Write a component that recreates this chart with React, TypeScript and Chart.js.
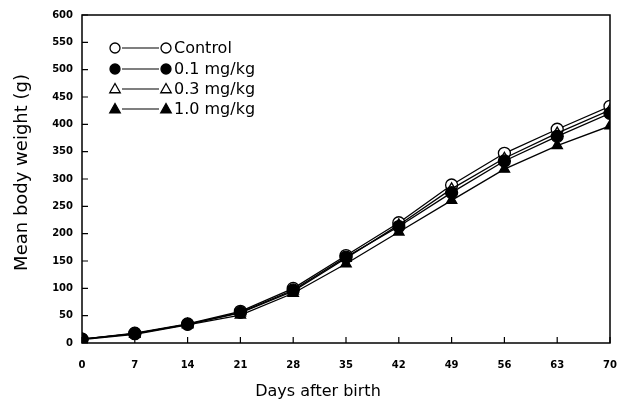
import React, { useEffect, useRef } from "react";
import { Chart, registerables } from "chart.js";

Chart.register(...registerables);

const days = [0, 7, 14, 21, 28, 35, 42, 49, 56, 63, 70];
const control = [7, 18, 35, 58, 100, 160, 220, 289, 347, 391, 433];
const dose01 = [7, 17, 34, 56, 97, 157, 213, 275, 333, 378, 420];
const dose03 = [7, 17, 34, 55, 95, 155, 216, 282, 338, 384, 426];
const dose10 = [6, 16, 33, 51, 91, 145, 203, 261, 318, 361, 397];
const seriesLabels = ["Control", "0.1 mg/kg", "0.3 mg/kg", "1.0 mg/kg"];
const xTicks = [0, 7, 14, 21, 28, 35, 42, 49, 56, 63, 70];
const yTicks = [0, 50, 100, 150, 200, 250, 300, 350, 400, 450, 500, 550, 600];
const xTitle = "Days after birth";
const yTitle = "Mean body weight (g)";

const markerDefs = [
  { style: "circle", fill: "#ffffff" },
  { style: "circle", fill: "#000000" },
  { style: "triangle", fill: "#ffffff" },
  { style: "triangle", fill: "#000000" },
];

function drawMarker(ctx: CanvasRenderingContext2D, style: string, fill: string, x: number, y: number, r: number) {
  ctx.save();
  ctx.beginPath();
  if (style === "circle") {
    ctx.arc(x, y, r, 0, Math.PI * 2);
  } else {
    ctx.moveTo(x, y - r * 1.1);
    ctx.lineTo(x + r * 1.05, y + r * 0.75);
    ctx.lineTo(x - r * 1.05, y + r * 0.75);
    ctx.closePath();
  }
  ctx.fillStyle = fill;
  ctx.fill();
  ctx.strokeStyle = "#000";
  ctx.lineWidth = 1.3;
  ctx.stroke();
  ctx.restore();
}

const framePlugin = {
  id: "frame",
  afterDraw(chart: any) {
    const { ctx, chartArea } = chart;
    const { left, right, top, bottom } = chartArea;
    const xs = chart.scales.x;
    const ys = chart.scales.y;
    ctx.save();
    ctx.strokeStyle = "#000";
    ctx.lineWidth = 1.5;
    ctx.strokeRect(left, top, right - left, bottom - top);
    ctx.lineWidth = 1.2;
    ctx.beginPath();
    yTicks.forEach((v) => {
      const py = ys.getPixelForValue(v);
      ctx.moveTo(left, py);
      ctx.lineTo(left + 6, py);
    });
    xTicks.forEach((v) => {
      const px = xs.getPixelForValue(v);
      ctx.moveTo(px, bottom);
      ctx.lineTo(px, bottom - 6);
    });
    ctx.stroke();

    // axis titles
    ctx.fillStyle = "#000";
    ctx.textAlign = "center";
    ctx.textBaseline = "middle";
    ctx.font = "16px 'DejaVu Sans'";
    ctx.fillText(xTitle, 318, 392);
    ctx.save();
    ctx.translate(22, top + (bottom - top) * 0.48);
    ctx.rotate(-Math.PI / 2);
    ctx.font = "18px 'DejaVu Sans'";
    ctx.fillText(yTitle, 0, 0);
    ctx.restore();

    // legend
    const lx = left + 33;
    const rowY = [48, 69, 89, 109];
    ctx.font = "16px 'DejaVu Sans'";
    ctx.textAlign = "left";
    ctx.textBaseline = "middle";
    seriesLabels.forEach((lab, i) => {
      const y = rowY[i];
      const m = markerDefs[i];
      ctx.beginPath();
      ctx.lineWidth = 1.2;
      ctx.moveTo(lx + 7, y);
      ctx.lineTo(lx + 44, y);
      ctx.stroke();
      drawMarker(ctx, m.style, m.fill, lx, y, 5);
      drawMarker(ctx, m.style, m.fill, lx + 51, y, 5);
      ctx.fillText(lab, lx + 59, y + 1);
    });
    ctx.restore();
  },
};

export default function App() {
  const ref = useRef<HTMLCanvasElement | null>(null);
  useEffect(() => {
    if (!ref.current) return;
    const series = [control, dose01, dose03, dose10];
    const datasets = series.map((vals, i) => ({
      label: seriesLabels[i],
      data: days.map((d, j) => ({ x: d, y: vals[j] })),
      borderColor: "#000",
      borderWidth: 1.3,
      pointStyle: markerDefs[i].style as any,
      pointBackgroundColor: markerDefs[i].fill,
      pointBorderColor: "#000",
      pointBorderWidth: 1.3,
      pointRadius: 6,
      tension: 0,
      order: i === 0 ? 4 : i,
    }));
    const chart = new Chart(ref.current, {
      type: "line",
      data: { datasets },
      options: {
        animation: false,
        responsive: false,
        layout: { padding: { left: 0, top: 15, right: 15, bottom: 0 } },
        plugins: { legend: { display: false }, tooltip: { enabled: false } },
        scales: {
          x: {
            type: "linear",
            min: 0,
            max: 70,
            afterBuildTicks: (s: any) => {
              s.ticks = xTicks.map((v) => ({ value: v }));
            },
            afterFit: (s: any) => {
              s.height = 60;
              s.paddingLeft = 0;
              s.paddingRight = 0;
            },
            grid: { display: true, drawOnChartArea: false, drawTicks: false },
            border: { display: false },
            ticks: {
              padding: 16,
              color: "#000",
              font: { family: "'DejaVu Sans'", size: 10, weight: "bold" },
            },
            title: { display: false },
          },
          y: {
            type: "linear",
            min: 0,
            max: 600,
            afterBuildTicks: (s: any) => {
              s.ticks = yTicks.map((v) => ({ value: v }));
            },
            afterFit: (s: any) => {
              s.width = 82;
              s.paddingTop = 0;
              s.paddingBottom = 0;
            },
            grid: { display: true, drawOnChartArea: false, drawTicks: false },
            border: { display: false },
            ticks: {
              padding: 9,
              color: "#000",
              font: { family: "'DejaVu Sans'", size: 10, weight: "bold" },
            },
            title: { display: false },
          },
        },
      },
      plugins: [framePlugin],
    });
    return () => chart.destroy();
  }, []);
  return (
    <div style={{ position: "fixed", left: 0, top: 0, width: 625, height: 403, background: "#fff" }}>
      <canvas ref={ref} width={625} height={403} style={{ display: "block" }} />
    </div>
  );
}
